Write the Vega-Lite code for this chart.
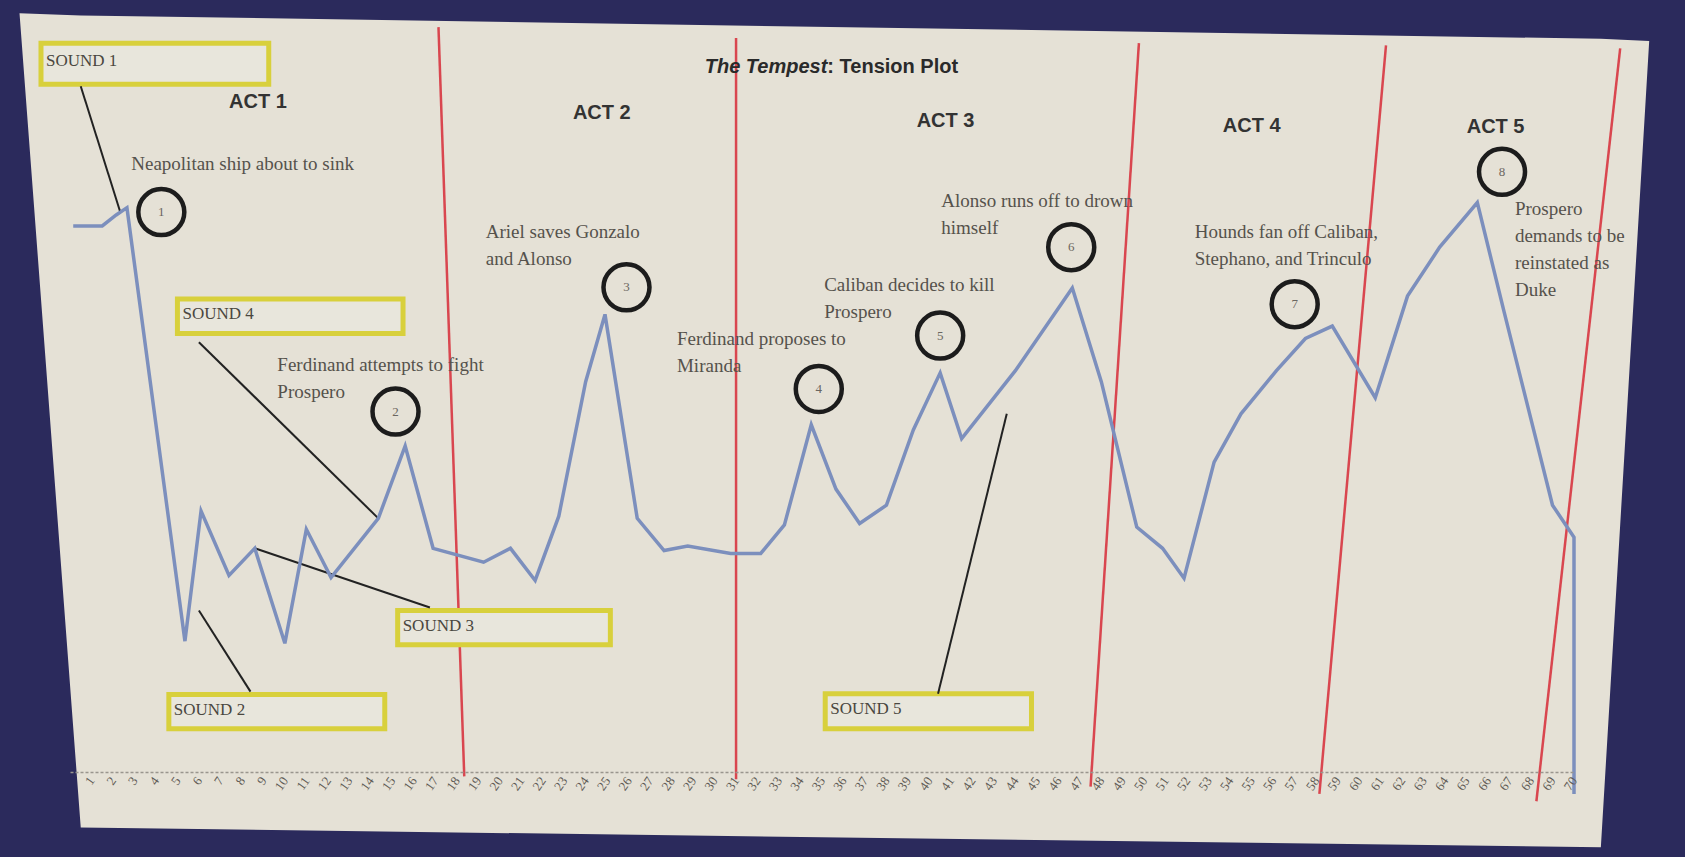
{
  "$schema": "https://vega.github.io/schema/vega-lite/v6.json",
  "autosize": {"type": "none"},
  "width": 1504,
  "height": 731,
  "padding": {"left": 70, "top": 41, "right": 111, "bottom": 85},
  "background": "#2b2a5c",
  "config": {"view": {"stroke": null}},
  "datasets": {
    "paper": [
      {"x": -2.35, "top": 103.8, "bottom": 103.8},
      {"x": 0.5, "top": 103.5, "bottom": -7.6},
      {"x": 71.25, "top": 100.3, "bottom": -10.3},
      {"x": 73.5, "top": 100.0, "bottom": 100.0}
    ],
    "tension": [
      {"step": 1, "x": 0.15, "tension": 74.7},
      {"step": 2, "x": 1.5, "tension": 74.7},
      {"step": 3, "x": 2.15, "tension": 76.2},
      {"step": 4, "x": 2.65, "tension": 77.2},
      {"step": 5, "x": 5.35, "tension": 17.9},
      {"step": 6, "x": 6.1, "tension": 35.7},
      {"step": 7, "x": 7.4, "tension": 26.9},
      {"step": 8, "x": 8.6, "tension": 30.6},
      {"step": 9, "x": 10.0, "tension": 17.6},
      {"step": 10, "x": 11.0, "tension": 33.2},
      {"step": 11, "x": 12.15, "tension": 26.6},
      {"step": 12, "x": 14.35, "tension": 34.7},
      {"step": 13, "x": 15.6, "tension": 44.6},
      {"step": 14, "x": 16.9, "tension": 30.6},
      {"step": 15, "x": 19.25, "tension": 28.7},
      {"step": 16, "x": 20.5, "tension": 30.6},
      {"step": 17, "x": 21.65, "tension": 26.2},
      {"step": 18, "x": 22.75, "tension": 35.0},
      {"step": 19, "x": 24.0, "tension": 53.4},
      {"step": 20, "x": 24.9, "tension": 62.6},
      {"step": 21, "x": 26.4, "tension": 34.7},
      {"step": 22, "x": 27.65, "tension": 30.3},
      {"step": 23, "x": 28.75, "tension": 30.9},
      {"step": 24, "x": 30.75, "tension": 29.9},
      {"step": 25, "x": 32.15, "tension": 29.9},
      {"step": 26, "x": 33.25, "tension": 33.8},
      {"step": 27, "x": 34.5, "tension": 47.5},
      {"step": 28, "x": 35.65, "tension": 38.7},
      {"step": 29, "x": 36.75, "tension": 34.0},
      {"step": 30, "x": 38.0, "tension": 36.5},
      {"step": 31, "x": 39.25, "tension": 46.8},
      {"step": 32, "x": 40.5, "tension": 54.6},
      {"step": 33, "x": 41.5, "tension": 45.6},
      {"step": 34, "x": 44.0, "tension": 54.9},
      {"step": 35, "x": 46.65, "tension": 66.2},
      {"step": 36, "x": 48.0, "tension": 53.4},
      {"step": 37, "x": 49.65, "tension": 33.5},
      {"step": 38, "x": 50.85, "tension": 30.6},
      {"step": 39, "x": 51.85, "tension": 26.5},
      {"step": 40, "x": 53.25, "tension": 42.4},
      {"step": 41, "x": 54.5, "tension": 49.0},
      {"step": 42, "x": 56.15, "tension": 54.9},
      {"step": 43, "x": 57.5, "tension": 59.3},
      {"step": 44, "x": 58.75, "tension": 61.0},
      {"step": 45, "x": 60.75, "tension": 51.2},
      {"step": 46, "x": 62.25, "tension": 65.1},
      {"step": 47, "x": 63.75, "tension": 71.8},
      {"step": 48, "x": 65.5, "tension": 77.9},
      {"step": 49, "x": 66.75, "tension": 62.9},
      {"step": 50, "x": 69.0, "tension": 36.5},
      {"step": 51, "x": 70.0, "tension": 32.1},
      {"step": 52, "x": 70.0, "tension": -3.0}
    ],
    "acts": [
      {"xt": 17.15, "xb": 18.35, "top": 101.9, "bottom": -0.6},
      {"xt": 31.0, "xb": 31.0, "top": 100.4, "bottom": -1.0},
      {"xt": 49.75, "xb": 47.5, "top": 99.7, "bottom": -2.0},
      {"xt": 61.25, "xb": 58.15, "top": 99.4, "bottom": -3.0},
      {"xt": 72.15, "xb": 68.25, "top": 99.0, "bottom": -4.0}
    ],
    "actLabels": [
      {"label": "ACT 1", "x": 8.75, "y": 91.6},
      {"label": "ACT 2", "x": 24.75, "y": 90.1},
      {"label": "ACT 3", "x": 40.75, "y": 89.1},
      {"label": "ACT 4", "x": 55.0, "y": 88.4},
      {"label": "ACT 5", "x": 66.35, "y": 88.2}
    ],
    "sounds": [
      {"label": "SOUND 1", "x1": -1.35, "x2": 9.25, "y1": 99.7, "y2": 94.1, "ymid": 97.2},
      {"label": "SOUND 4", "x1": 5.0, "x2": 15.5, "y1": 64.7, "y2": 60.0, "ymid": 62.6},
      {"label": "SOUND 3", "x1": 15.25, "x2": 25.15, "y1": 22.1, "y2": 17.4, "ymid": 20.0},
      {"label": "SOUND 2", "x1": 4.6, "x2": 14.65, "y1": 10.6, "y2": 5.9, "ymid": 8.5},
      {"label": "SOUND 5", "x1": 35.15, "x2": 44.75, "y1": 10.7, "y2": 5.9, "ymid": 8.6}
    ],
    "connectors": [
      {"x1": 0.5, "y1": 93.8, "x2": 2.35, "y2": 76.5},
      {"x1": 6.0, "y1": 58.8, "x2": 14.35, "y2": 34.7},
      {"x1": 8.6, "y1": 30.6, "x2": 16.75, "y2": 22.5},
      {"x1": 6.0, "y1": 22.1, "x2": 8.4, "y2": 11.0},
      {"x1": 43.6, "y1": 49.0, "x2": 40.4, "y2": 10.7}
    ],
    "events": [
      {"n": "1", "x": 4.25, "y": 76.6},
      {"n": "2", "x": 15.15, "y": 49.3},
      {"n": "3", "x": 25.9, "y": 66.3},
      {"n": "4", "x": 34.85, "y": 52.4},
      {"n": "5", "x": 40.5, "y": 59.7},
      {"n": "6", "x": 46.6, "y": 71.8},
      {"n": "7", "x": 57.0, "y": 64.0},
      {"n": "8", "x": 66.65, "y": 82.1}
    ],
    "notes": [
      {"text": "Neapolitan ship about to sink", "x": 2.85, "y": 84.4},
      {"text": "Ariel saves Gonzalo\nand Alonso", "x": 19.35, "y": 75.1},
      {"text": "Ferdinand attempts to fight\nProspero", "x": 9.65, "y": 56.9},
      {"text": "Ferdinand proposes to\nMiranda", "x": 28.25, "y": 60.4},
      {"text": "Caliban decides to kill\nProspero", "x": 35.1, "y": 67.8},
      {"text": "Alonso runs off to drown\nhimself", "x": 40.55, "y": 79.3},
      {"text": "Hounds fan off Caliban,\nStephano, and Trinculo", "x": 52.35, "y": 75.1},
      {"text": "Prospero\ndemands to be\nreinstated as\nDuke", "x": 67.25, "y": 78.2}
    ]
  },
  "layer": [
    {
      "data": {"name": "paper"},
      "mark": {"type": "area", "fill": "#e5e1d6", "stroke": null},
      "encoding": {
        "x": {"field": "x", "type": "quantitative", "scale": {"domain": [0, 70], "nice": false, "zero": false},
          "axis": {"values": [1,2,3,4,5,6,7,8,9,10,11,12,13,14,15,16,17,18,19,20,21,22,23,24,25,26,27,28,29,30,31,32,33,34,35,36,37,38,39,40,41,42,43,44,45,46,47,48,49,50,51,52,53,54,55,56,57,58,59,60,61,62,63,64,65,66,67,68,69,70],
            "tickCount": 100, "format": "d",
            "zindex": 1,
            "labelAngle": -55, "labelFontSize": 13, "labelColor": "#5e5a54", "labelFont": "Liberation Serif",
            "labelOverlap": false, "labelBound": false, "labelFlush": false, "labelPadding": 6,
            "ticks": false, "grid": false, "title": null,
            "domainColor": "#9a968e", "domainDash": [3, 2], "domainWidth": 1.5}},
        "y": {"field": "top", "type": "quantitative", "scale": {"domain": [0, 100], "nice": false, "zero": false}, "axis": null},
        "y2": {"field": "bottom"}
      }
    },
    {
      "data": {"name": "acts"},
      "mark": {"type": "rule", "stroke": "#d9464f", "strokeWidth": 2.5},
      "encoding": {
        "x": {"field": "xt", "type": "quantitative"},
        "x2": {"field": "xb"},
        "y": {"field": "top", "type": "quantitative"},
        "y2": {"field": "bottom"}
      }
    },
    {
      "data": {"name": "sounds"},
      "mark": {"type": "rect", "fill": "#e8e6dc", "stroke": "#d8d03c", "strokeWidth": 5},
      "encoding": {
        "x": {"field": "x1", "type": "quantitative"},
        "x2": {"field": "x2"},
        "y": {"field": "y1", "type": "quantitative"},
        "y2": {"field": "y2"}
      }
    },
    {
      "data": {"name": "sounds"},
      "mark": {"type": "text", "align": "left", "baseline": "middle", "dx": 5, "font": "Liberation Serif", "fontSize": 17, "color": "#4a4740"},
      "encoding": {
        "x": {"field": "x1", "type": "quantitative"},
        "y": {"field": "ymid", "type": "quantitative"},
        "text": {"field": "label"}
      }
    },
    {
      "data": {"name": "connectors"},
      "mark": {"type": "rule", "stroke": "#222222", "strokeWidth": 2},
      "encoding": {
        "x": {"field": "x1", "type": "quantitative"},
        "x2": {"field": "x2"},
        "y": {"field": "y1", "type": "quantitative"},
        "y2": {"field": "y2"}
      }
    },
    {
      "data": {"name": "tension"},
      "mark": {"type": "line", "stroke": "#7c8fbd", "strokeWidth": 3.5},
      "encoding": {
        "x": {"field": "x", "type": "quantitative"},
        "y": {"field": "tension", "type": "quantitative"},
        "order": {"field": "step", "type": "quantitative"}
      }
    },
    {
      "data": {"name": "events"},
      "mark": {"type": "point", "shape": "circle", "filled": false, "size": 2116, "stroke": "#1c1c1c", "strokeWidth": 4.5, "opacity": 1},
      "encoding": {
        "x": {"field": "x", "type": "quantitative"},
        "y": {"field": "y", "type": "quantitative"}
      }
    },
    {
      "data": {"name": "events"},
      "mark": {"type": "text", "align": "center", "baseline": "middle", "font": "Liberation Serif", "fontSize": 13, "color": "#6a6660"},
      "encoding": {
        "x": {"field": "x", "type": "quantitative"},
        "y": {"field": "y", "type": "quantitative"},
        "text": {"field": "n"}
      }
    },
    {
      "data": {"name": "notes"},
      "mark": {"type": "text", "align": "left", "baseline": "top", "lineBreak": "\n", "lineHeight": 27, "font": "Liberation Serif", "fontSize": 19, "color": "#55524c"},
      "encoding": {
        "x": {"field": "x", "type": "quantitative"},
        "y": {"field": "y", "type": "quantitative"},
        "text": {"field": "text"}
      }
    },
    {
      "data": {"name": "actLabels"},
      "mark": {"type": "text", "align": "center", "baseline": "middle", "font": "Liberation Sans", "fontWeight": "bold", "fontSize": 20, "color": "#333333"},
      "encoding": {
        "x": {"field": "x", "type": "quantitative"},
        "y": {"field": "y", "type": "quantitative"},
        "text": {"field": "label"}
      }
    },
    {
      "data": {"values": [{"part": "The Tempest", "x": 35.25, "y": 96.5}]},
      "mark": {"type": "text", "align": "right", "baseline": "middle", "font": "Liberation Sans", "fontWeight": "bold", "fontStyle": "italic", "fontSize": 20, "color": "#2a2a2a"},
      "encoding": {
        "x": {"field": "x", "type": "quantitative"},
        "y": {"field": "y", "type": "quantitative"},
        "text": {"field": "part"}
      }
    },
    {
      "data": {"values": [{"part": ": Tension Plot", "x": 35.25, "y": 96.5}]},
      "mark": {"type": "text", "align": "left", "baseline": "middle", "font": "Liberation Sans", "fontWeight": "bold", "fontSize": 20, "color": "#2a2a2a"},
      "encoding": {
        "x": {"field": "x", "type": "quantitative"},
        "y": {"field": "y", "type": "quantitative"},
        "text": {"field": "part"}
      }
    }
  ]
}
